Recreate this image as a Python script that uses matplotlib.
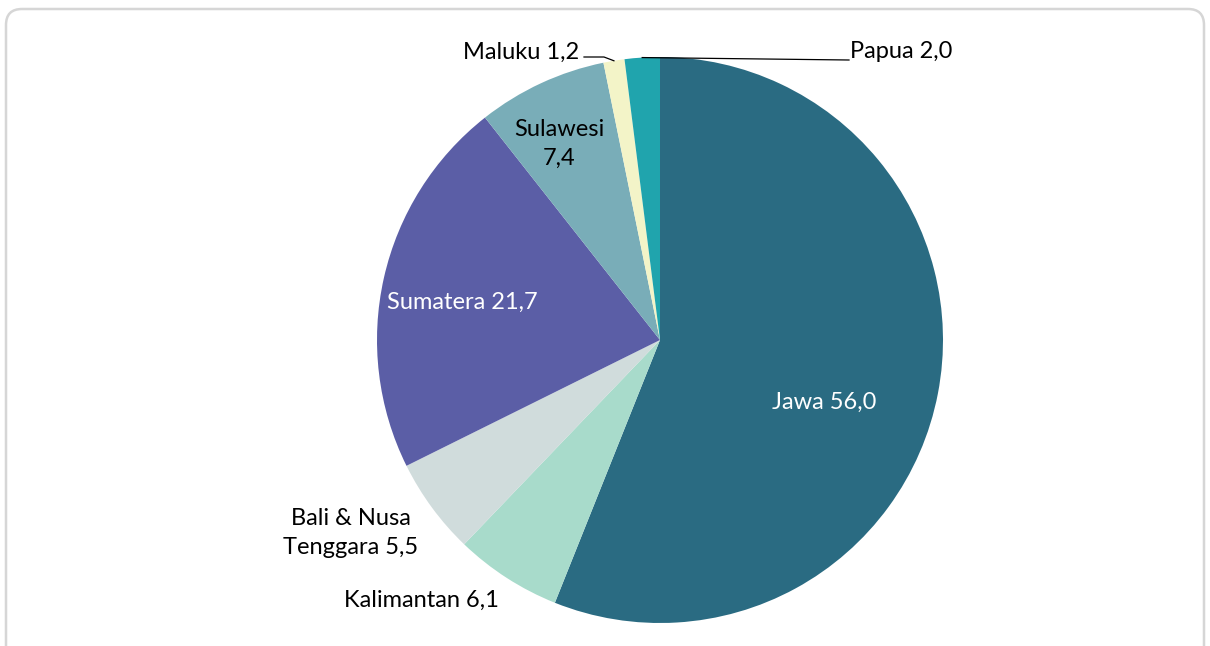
import matplotlib
matplotlib.use("Agg")
import matplotlib.pyplot as plt
from matplotlib.patches import FancyBboxPatch
import numpy as np

# Share by island group (%)
regions = ["Jawa", "Kalimantan", "Bali & Nusa\nTenggara", "Sumatera", "Sulawesi", "Maluku", "Papua"]
shares = [56.0, 6.1, 5.5, 21.7, 7.4, 1.2, 2.0]
colors = ["#2a6b82", "#a8dbcb", "#d0dcdc", "#5b5ea6", "#79adb8", "#f3f4c8", "#20a4ad"]

W, H = 1210, 646
cx, cy, R = 660, H - 340, 283

plt.rcParams["font.family"] = ["Lato", "DejaVu Sans"]

fig = plt.figure(figsize=(W / 100, H / 100), dpi=100)
ax = fig.add_axes([0, 0, 1, 1])

wedges, _ = ax.pie(shares, colors=colors, startangle=90, counterclock=False,
                   center=(cx, cy), radius=R, wedgeprops=dict(linewidth=0))
ax.set_xlim(0, W)
ax.set_ylim(0, H)
ax.set_aspect("equal")
ax.axis("off")


def fmt(v):
    return f"{v:.1f}".replace(".", ",")


def edge_point(w, frac=1.0):
    t = np.deg2rad((w.theta1 + w.theta2) / 2)
    return cx + R * frac * np.cos(t), cy + R * frac * np.sin(t)


fs = 17
# label placement: (x, y in pixels from top, text colour)
label_pos = {
    "Jawa": (824, 402, "white"),
    "Kalimantan": (421, 600, "black"),
    "Bali & Nusa\nTenggara": (351, 533, "black"),
    "Sumatera": (462, 302, "white"),
    "Sulawesi": (559, 144, "black"),
}
for w, name, v in zip(wedges, regions, shares):
    if name in label_pos:
        x, y, c = label_pos[name]
        sep = "\n" if name == "Sulawesi" else " "
        ax.text(x, H - y, f"{name}{sep}{fmt(v)}", ha="center", va="center",
                color=c, fontsize=fs, linespacing=1.45)

# small slices get leader lines
iw = {n: w for n, w in zip(regions, wedges)}
mx, my = edge_point(iw["Maluku"])
ax.plot([mx, 604, 584], [my, H - 57, H - 57], color="black", lw=0.9)
ax.text(579, H - 52, f"Maluku {fmt(1.2)}", ha="right", va="center", fontsize=fs)

px, py = edge_point(iw["Papua"])
ax.plot([px, 849], [py, H - 60], color="black", lw=0.9)
ax.text(850, H - 52, f"Papua {fmt(2.0)}", ha="left", va="center", fontsize=fs)

# rounded outer frame, bottom runs off the canvas
frame = FancyBboxPatch((6, -20), W - 12, H - 9 + 20, boxstyle="round,pad=0,rounding_size=16",
                       transform=ax.transData, facecolor="none", edgecolor="#d6d6d6",
                       lw=1.8, clip_on=False)
ax.add_patch(frame)

fig.savefig("out.png", dpi=100)
